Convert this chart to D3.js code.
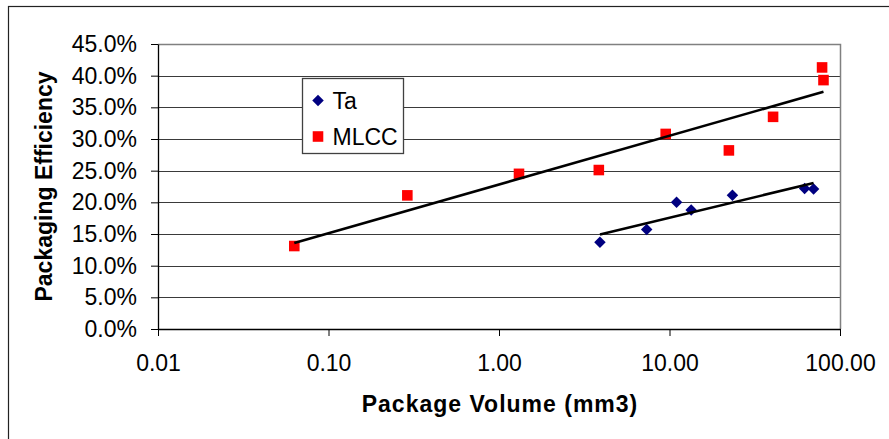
<!DOCTYPE html>
<meta charset="utf-8">
<style>

body {
  margin: 0;
  background: #fff;
}

svg text {
  font-family: "Liberation Sans", Arial, sans-serif;
  fill: #000;
}

.axis text {
  font-size: 23px;
}

.axis .domain,
.axis .tick line {
  stroke: #000;
}

.grid line {
  stroke: #3a3a3a;
  shape-rendering: crispEdges;
}

.title {
  font-size: 23px;
  font-weight: bold;
}

</style>
<body>
<script src="https://d3js.org/d3.v7.min.js"></script>

<script>

// values (volume in mm3, efficiency as fraction)
var ta_volume = [3.91, 7.35, 11.0, 13.4, 23.4, 62.0, 70.0],
    ta_eff = [0.137, 0.157, 0.200, 0.188, 0.211, 0.222, 0.221];

var mlcc_volume = [0.063, 0.29, 1.31, 3.85, 9.5, 22.3, 40.5, 78.5, 80.0],
    mlcc_eff = [0.131, 0.211, 0.245, 0.251, 0.308, 0.282, 0.335, 0.413, 0.393];

var series_names = ["Ta", "MLCC"];

var x_ticks = [0.01, 0.1, 1, 10, 100],
    y_ticks = [0, 0.05, 0.10, 0.15, 0.20, 0.25, 0.30, 0.35, 0.40, 0.45];


var margin = {top: 44, left: 158},
    width = 682,
    height = 285;

var svg = d3.select("body").append("svg")
    .attr("width", 889)
    .attr("height", 439);

// chart frame (cut off on the right and bottom in the original)
svg.append("rect")
    .attr("x", 8.5)
    .attr("y", 6.5)
    .attr("width", 950)
    .attr("height", 500)
    .attr("fill", "#fff")
    .attr("stroke", "#222")
    .attr("stroke-width", 1.2);

var x = d3.scaleLog()
    .domain([0.01, 100])
    .range([0, width]);

var y = d3.scaleLinear()
    .domain([0, 0.45])
    .range([height, 0]);

var plot = svg.append("g")
    .attr("transform", "translate(" + margin.left + "," + margin.top + ")");

// horizontal gridlines
plot.append("g")
    .attr("class", "grid")
  .selectAll("line")
  .data(y_ticks.slice(1))
  .enter().append("line")
    .attr("x1", 0)
    .attr("x2", width)
    .attr("y1", function(d) { return Math.round(y(d)) + 0.5; })
    .attr("y2", function(d) { return Math.round(y(d)) + 0.5; });

// plot area border, top and right in grey
plot.append("path")
    .attr("d", "M0,0.5H" + (width + 0.5) + "V" + height)
    .attr("fill", "none")
    .attr("stroke", "#808080")
    .attr("stroke-width", 1.5);

plot.append("g")
    .attr("class", "axis axis--y")
    .call(d3.axisLeft(y)
        .tickValues(y_ticks)
        .tickSize(7)
        .tickSizeOuter(0)
        .tickPadding(14)
        .tickFormat(d3.format(".1%")));

plot.append("g")
    .attr("class", "axis axis--x")
    .attr("transform", "translate(0," + height + ")")
    .call(d3.axisBottom(x)
        .tickValues(x_ticks)
        .tickSize(7)
        .tickSizeOuter(0)
        .tickPadding(19)
        .tickFormat(d3.format(".2f")));

plot.selectAll(".axis .domain").attr("stroke-width", 1.3);


// log trendline like excel does it: y = a*log10(x) + b, least squares
function fn_trend(vols, effs) {
  var lx = vols.map(function(d) { return Math.log10(d); });
  var mx = d3.mean(lx), my = d3.mean(effs);
  var sxy = d3.sum(lx, function(d, i) { return (d - mx) * (effs[i] - my); });
  var sxx = d3.sum(lx, function(d) { return (d - mx) * (d - mx); });
  var a = sxy / sxx, b = my - a * mx;
  return d3.extent(vols).map(function(v) { return [v, a * Math.log10(v) + b]; });
}

var ta_data = ta_volume.map(function(d, i) { return [d, ta_eff[i]]; }),
    mlcc_data = mlcc_volume.map(function(d, i) { return [d, mlcc_eff[i]]; });

var diamond = d3.symbol().type(d3.symbolSquare).size(66),
    square = d3.symbol().type(d3.symbolSquare).size(112);

plot.append("g")
  .selectAll("path")
  .data(ta_data)
  .enter().append("path")
    .attr("d", diamond)
    .attr("fill", "#000080")
    .attr("transform", function(d) { return "translate(" + x(d[0]) + "," + y(d[1]) + ") rotate(45)"; });

plot.append("g")
  .selectAll("path")
  .data(mlcc_data)
  .enter().append("path")
    .attr("d", square)
    .attr("fill", "#ff0000")
    .attr("transform", function(d) { return "translate(" + x(d[0]) + "," + y(d[1]) + ")"; });

var line = d3.line()
    .x(function(d) { return x(d[0]); })
    .y(function(d) { return y(d[1]); });

plot.selectAll(".trend")
  .data([fn_trend(ta_volume, ta_eff), fn_trend(mlcc_volume, mlcc_eff)])
  .enter().append("path")
    .attr("class", "trend")
    .attr("d", line)
    .attr("fill", "none")
    .attr("stroke", "#000")
    .attr("stroke-width", 2.6);


// axis titles
svg.append("text")
    .attr("class", "title")
    .attr("transform", "translate(44," + (margin.top + height / 2) + ") rotate(-90)")
    .attr("text-anchor", "middle")
    .attr("dy", "0.35em")
    .text("Packaging Efficiency");

svg.append("text")
    .attr("class", "title")
    .attr("x", 500)
    .attr("y", 412)
    .attr("text-anchor", "middle")
    .attr("letter-spacing", "1px")
    .text("Package Volume (mm3)");


// legend
var legend = svg.append("g")
    .attr("transform", "translate(302.5,78.5)");

legend.append("rect")
    .attr("width", 101)
    .attr("height", 75)
    .attr("fill", "#fff")
    .attr("stroke", "#404040")
    .attr("stroke-width", 1.3);

var item = legend.selectAll(".item")
  .data(series_names)
  .enter().append("g")
    .attr("class", "item")
    .attr("transform", function(d, i) { return "translate(0," + (i === 0 ? 22 : 58) + ")"; });

item.append("path")
    .attr("d", function(d, i) { return i === 0 ? diamond() : square(); })
    .attr("fill", function(d, i) { return i === 0 ? "#000080" : "#ff0000"; })
    .attr("transform", function(d, i) { return "translate(15.5,0)" + (i === 0 ? " rotate(45)" : ""); });

item.append("text")
    .attr("x", 30)
    .attr("dy", "0.36em")
    .style("font-size", "23px")
    .text(function(d) { return d; });

</script>
